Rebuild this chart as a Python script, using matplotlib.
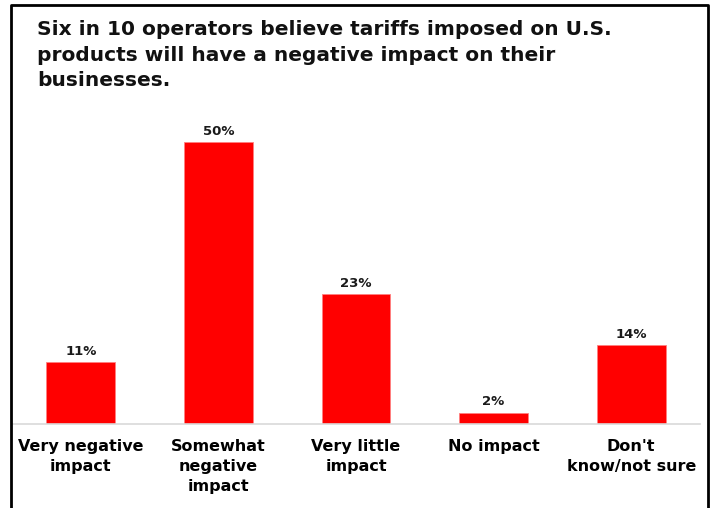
import numpy as np
import matplotlib.pyplot as plt
from matplotlib.lines import Line2D

# survey answers (share of operators, %)
categories = ["Very negative\nimpact", "Somewhat\nnegative\nimpact", "Very little\nimpact",
              "No impact", "Don't\nknow/not sure"]
shares = [11, 50, 23, 2, 14]

title = ("Six in 10 operators believe tariffs imposed on U.S.\n"
         "products will have a negative impact on their\n"
         "businesses.")

W, H = 714, 508
fig = plt.figure(figsize=(W / 100, H / 100), dpi=100)
ax = fig.add_axes([12 / W, 1 - 424 / H, 688 / W, 315 / H])

x = np.arange(len(categories))
bars = ax.bar(x, shares, width=0.5, color='#ff0000', edgecolor='#ff8080', linewidth=0.6)
for b, v in zip(bars, shares):
    ax.text(b.get_x() + b.get_width() / 2, v + 0.8, f"{v}%", ha='center', va='bottom',
            fontsize=9.5, fontweight='bold', color='#1a1a1a')

ax.set_xlim(-0.5, len(categories) - 0.5)
ax.set_ylim(0, 55.9)
ax.set_yticks([])
ax.set_xticks(x)
ax.set_xticklabels(categories, fontsize=11.5, fontweight='bold', linespacing=1.42, va='top')
ax.tick_params(axis='x', length=0, pad=11)
for s in ['top', 'right', 'left']:
    ax.spines[s].set_visible(False)
ax.spines['bottom'].set_color('#d9d9d9')
ax.spines['bottom'].set_linewidth(1.2)

fig.text(37 / W, 1 - 20 / H, title, ha='left', va='top', fontsize=14.5, fontweight='bold',
         linespacing=1.45, color='#111111')

# frame round the figure, open at the bottom
fx = [11 / W, 11 / W, 708 / W, 708 / W]
fy = [-0.1, 1 - 5 / H, 1 - 5 / H, -0.1]
fig.add_artist(Line2D(fx, fy, transform=fig.transFigure, color='black', linewidth=2))

fig.savefig('out.png', dpi=100)
